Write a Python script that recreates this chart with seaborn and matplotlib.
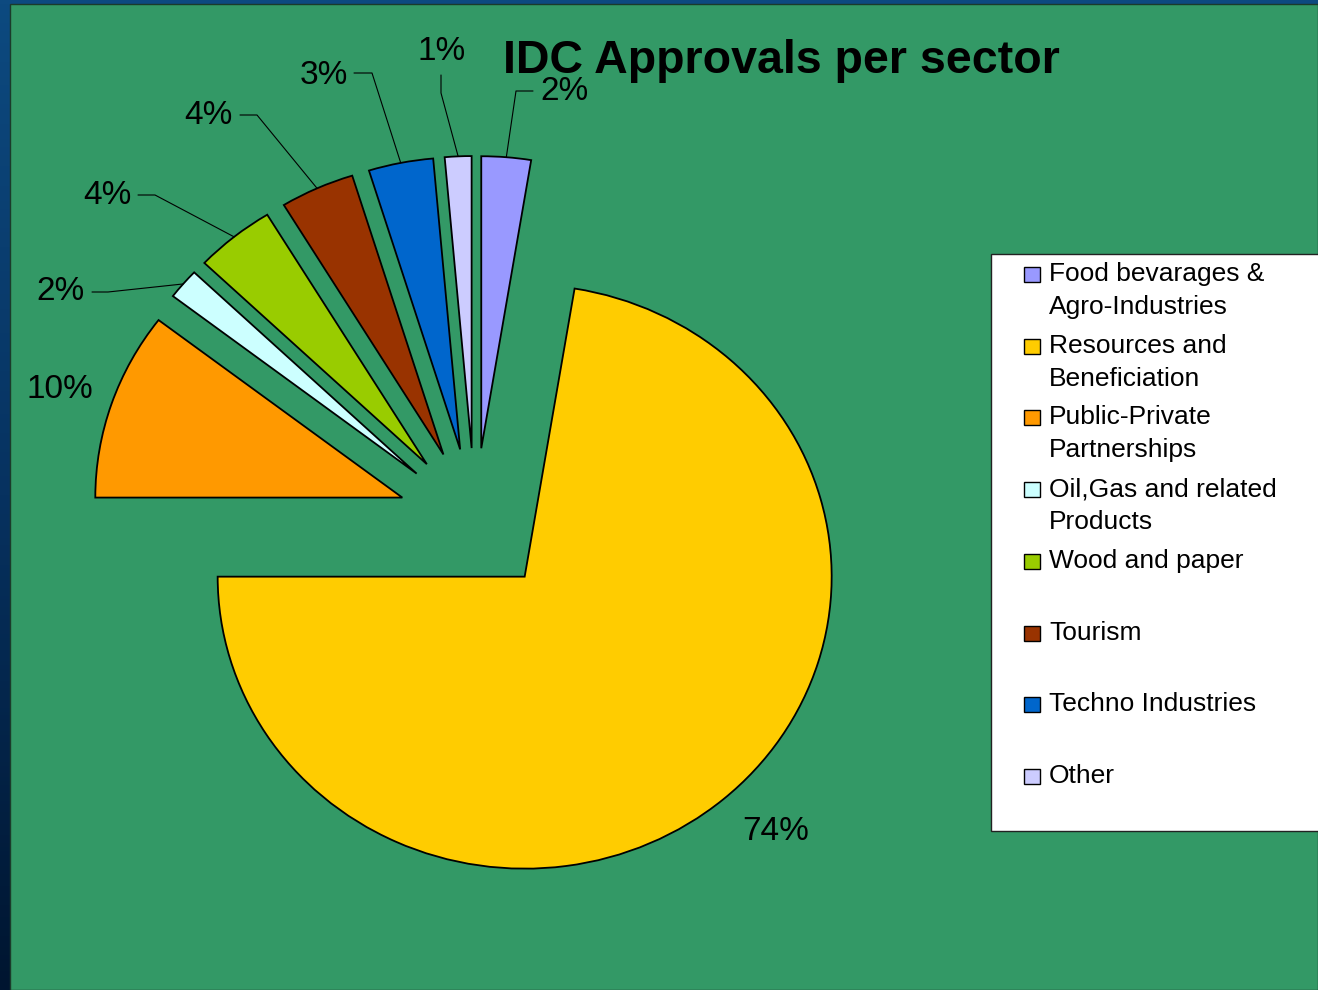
import textwrap
import numpy as np
import matplotlib
matplotlib.use("Agg")
import matplotlib.pyplot as plt
from matplotlib.patches import Rectangle
from matplotlib.colors import LinearSegmentedColormap
import seaborn as sns

# ---------------- data ----------------
title = "IDC Approvals per sector"
categories = [
    "Food bevarages & Agro-Industries",
    "Resources and Beneficiation",
    "Public-Private Partnerships",
    "Oil,Gas and related Products",
    "Wood and paper",
    "Tourism",
    "Techno Industries",
    "Other",
]
shares = [2.6, 72.4, 10.4, 1.7, 4.2, 3.9, 3.4, 1.4]
pct_labels = ["2%", "74%", "10%", "2%", "4%", "4%", "3%", "1%"]
slice_colors = ["#9999FF", "#FFCC00", "#FF9900", "#CCFFFF",
                "#99CC00", "#993300", "#0066CC", "#CCCCFF"]

# ---------------- style ----------------
sns.set_theme(style="white")
plt.rcParams["font.family"] = ["Liberation Sans", "DejaVu Sans"]
palette = sns.color_palette(slice_colors)

W, H = 1318, 990
fig = plt.figure(figsize=(W / 100, H / 100), dpi=100)
fig.patch.set_facecolor("#0b2d55")

# background (pixel coordinates)
bg = fig.add_axes([0, 0, 1, 1])
grad = np.linspace(0, 1, 256).reshape(-1, 1)
cmap = LinearSegmentedColormap.from_list("frame", ["#0d4a80", "#073260", "#001530"])
bg.imshow(grad, extent=[0, W, H, 0], cmap=cmap, aspect="auto", zorder=0)
bg.add_patch(Rectangle((10, 4), W - 10, H - 4, facecolor="#339966",
                       edgecolor="#1b3b2b", lw=1, zorder=1))
bg.set_xlim(0, W)
bg.set_ylim(H, 0)
bg.axis("off")

# ---------------- pie ----------------
cx, cy = 475, 521      # pie centre in pixels
rx, ry = 307, 292      # horizontal / vertical radius in pixels
ax = fig.add_axes([0, 0, 1, 1])
ax.patch.set_alpha(0)
wedges, _ = ax.pie(shares, colors=palette, startangle=90, counterclock=False,
                   explode=[0.25] * len(shares), radius=1.0,
                   wedgeprops=dict(edgecolor="black", linewidth=1.3))
ax.set_aspect("auto")
ax.set_xlim(-cx / rx, (W - cx) / rx)
ax.set_ylim(-(H - cy) / ry, cy / ry)
ax.axis("off")

# ---------------- overlay: labels, title, legend ----------------
ov = fig.add_axes([0, 0, 1, 1])
ov.patch.set_alpha(0)
ov.set_xlim(0, W)
ov.set_ylim(H, 0)
ov.axis("off")

# label placement (pixels): text centre and elbow points of leader line
label_layout = [
    ((564, 91), [(533, 91), (516, 91)]),
    ((776, 831), None),
    ((60, 390), None),
    ((61, 292), [(92, 292), (108, 292)]),
    ((107, 195), [(138, 195), (155, 195)]),
    ((208, 115), [(240, 115), (257, 115)]),
    ((324, 75), [(354, 73), (372, 73)]),
    ((442, 52), [(441, 75), (441, 93)]),
]

for w, lab, (pos, elbow) in zip(wedges, pct_labels, label_layout):
    ov.text(pos[0], pos[1], lab, fontsize=24, color="black",
            ha="center", va="center")
    if elbow is not None:
        tm = np.deg2rad((w.theta1 + w.theta2) / 2)
        ux = w.center[0] + w.r * np.cos(tm)
        uy = w.center[1] + w.r * np.sin(tm)
        axp = cx + rx * ux
        ayp = cy - ry * uy
        xs = [p[0] for p in elbow] + [axp]
        ys = [p[1] for p in elbow] + [ayp]
        ov.plot(xs, ys, color="black", lw=0.8)

ov.text(781, 73, title, fontsize=33.5, fontweight="bold", color="black",
        ha="center", va="baseline")

# legend box
ov.add_patch(Rectangle((991, 254), W - 991 + 5, 831 - 254, facecolor="white",
                       edgecolor="#222222", lw=1.0))
for i, (cat, col) in enumerate(zip(categories, palette)):
    base = 281 + 71.7 * i
    ov.add_patch(Rectangle((1024, base - 14), 16, 15, facecolor=col,
                           edgecolor="black", lw=1.0))
    for j, line in enumerate(textwrap.wrap(cat, 19)):
        ov.text(1049, base + 33 * j, line, fontsize=19, color="black",
                ha="left", va="baseline")

fig.savefig("out.png", dpi=100, facecolor=fig.get_facecolor())
